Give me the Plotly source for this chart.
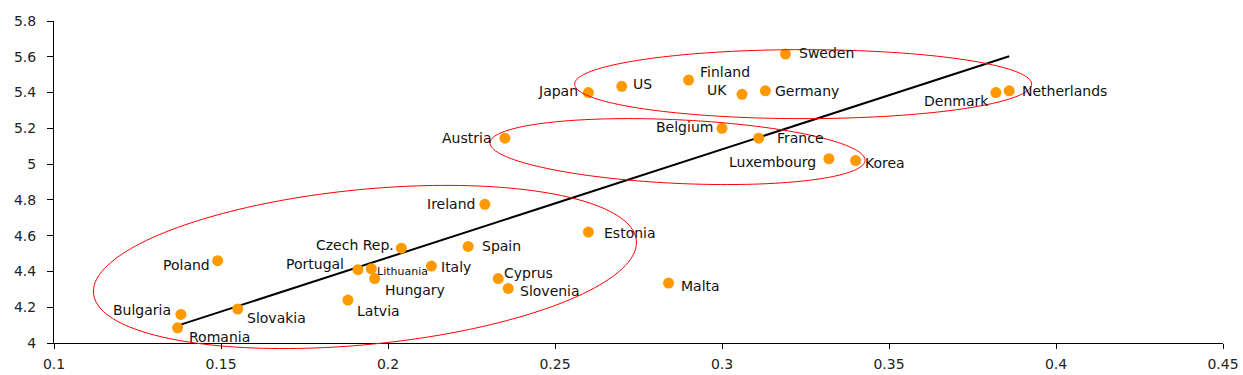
import numpy as np
import plotly.graph_objects as go

# ---- data ----
countries = ["Romania", "Bulgaria", "Poland", "Slovakia", "Latvia", "Portugal",
             "Lithuania", "Hungary", "Czech Rep.", "Italy", "Ireland", "Spain",
             "Cyprus", "Slovenia", "Estonia", "Malta", "Austria", "Japan", "US",
             "Finland", "UK", "Germany", "Sweden", "Belgium", "France",
             "Luxembourg", "Korea", "Denmark", "Netherlands"]
x_values = [0.137, 0.138, 0.149, 0.155, 0.188, 0.191,
            0.195, 0.196, 0.204, 0.213, 0.229, 0.224,
            0.233, 0.236, 0.260, 0.284, 0.235, 0.260, 0.270,
            0.290, 0.306, 0.313, 0.319, 0.300, 0.311,
            0.332, 0.340, 0.382, 0.386]
y_values = [4.085, 4.16, 4.46, 4.19, 4.24, 4.41,
            4.415, 4.36, 4.53, 4.43, 4.775, 4.54,
            4.36, 4.305, 4.62, 4.335, 5.145, 5.40, 5.435,
            5.47, 5.39, 5.41, 5.615, 5.20, 5.145,
            5.03, 5.02, 5.40, 5.41]
trend_x = [0.137, 0.386]
trend_y = [4.097, 5.603]
x_ticks = [0.1, 0.15, 0.2, 0.25, 0.3, 0.35, 0.4, 0.45]
y_ticks = [4, 4.2, 4.4, 4.6, 4.8, 5, 5.2, 5.4, 5.6, 5.8]

# ---- label placement (anchor, x shift px, y shift px, font size) ----
label_style = {
    "Romania": ("left", 9, -9, 14), "Bulgaria": ("right", -8, 4, 14),
    "Poland": ("right", -6, -4, 14), "Slovakia": ("left", 7, -9, 14),
    "Latvia": ("left", 7, -11, 14), "Portugal": ("right", -12, 6, 14),
    "Lithuania": ("left", 4, -3, 11), "Hungary": ("left", 8, -11, 14),
    "Czech Rep.": ("right", -5, 3, 14), "Italy": ("left", 8, -1, 14),
    "Ireland": ("right", -8, 0, 14), "Spain": ("left", 12, 0, 14),
    "Cyprus": ("left", 4, 6, 14), "Slovenia": ("left", 10, -3, 14),
    "Estonia": ("left", 14, -1, 14), "Malta": ("left", 10, -3, 14),
    "Austria": ("right", -12, 0, 14), "Japan": ("right", -8, 2, 14),
    "US": ("left", 9, 2, 14), "Finland": ("left", 9, 8, 14),
    "UK": ("right", -13, 4, 14), "Germany": ("left", 8, 0, 14),
    "Sweden": ("left", 12, 1, 14), "Belgium": ("right", -7, 1, 14),
    "France": ("left", 16, 0, 14), "Luxembourg": ("right", -11, -3, 14),
    "Korea": ("left", 7, -2, 14), "Denmark": ("right", -5, -8, 14),
    "Netherlands": ("left", 11, 0, 14),
}

# ---- figure geometry ----
W, H = 1243, 375
ML, MR, MT, MB = 54, 20, 21, 32
PW, PH = W - ML - MR, H - MT - MB
XR, YR = [0.1, 0.45], [4.0, 5.8]

fig = go.Figure()
fig.add_trace(go.Scatter(x=trend_x, y=trend_y, mode="lines",
                         line=dict(color="black", width=2), hoverinfo="skip",
                         cliponaxis=False))
fig.add_trace(go.Scatter(x=x_values, y=y_values, mode="markers",
                         marker=dict(color="#FF9900", size=11), text=countries,
                         cliponaxis=False))

for name, xv, yv in zip(countries, x_values, y_values):
    anc, xs, ys, fs = label_style[name]
    fig.add_annotation(x=xv, y=yv, text=name, showarrow=False, xanchor=anc,
                       yanchor="middle", xshift=xs, yshift=ys,
                       font=dict(family="DejaVu Sans", size=fs, color="#111"))

# ---- red ellipses (center in data units, semi-axes in px, tilt in degrees) ----
ellipses = [((0.1931, 4.425), 272.7, 77.5, 5.6),
            ((0.3243, 5.447), 228.5, 34.5, 0.0),
            ((0.2867, 5.070), 187.7, 31.8, -2.7)]
t = np.linspace(0, 2 * np.pi, 181)
for (cx, cy), a, b, ang in ellipses:
    th = np.radians(ang)
    u0 = (cx - XR[0]) / (XR[1] - XR[0])
    v0 = (cy - YR[0]) / (YR[1] - YR[0])
    dx = a * np.cos(th) * np.cos(t) - b * np.sin(th) * np.sin(t)
    dy = a * np.sin(th) * np.cos(t) + b * np.cos(th) * np.sin(t)
    u = u0 + dx / PW
    v = v0 + dy / PH
    path = "M " + " L ".join(f"{uu:.5f},{vv:.5f}" for uu, vv in zip(u, v)) + " Z"
    fig.add_shape(type="path", path=path, xref="paper", yref="paper",
                  line=dict(color="#FF0000", width=1), layer="above")

tickfont = dict(family="DejaVu Sans", size=14, color="#222")
fig.update_layout(
    width=W, height=H, margin=dict(l=ML, r=MR, t=MT, b=MB, autoexpand=False),
    plot_bgcolor="white", paper_bgcolor="white", showlegend=False,
    xaxis=dict(range=XR, tickvals=x_ticks, showgrid=False, zeroline=False,
               showline=True, linecolor="black", linewidth=1, ticks="outside",
               ticklen=5, tickcolor="black", tickfont=tickfont,
               ticklabelstandoff=3, automargin=False),
    yaxis=dict(range=YR, tickvals=y_ticks, showgrid=False, zeroline=False,
               showline=True, linecolor="black", linewidth=1, ticks="outside",
               ticklen=6, tickcolor="black", tickfont=tickfont,
               ticklabelstandoff=8, automargin=False),
)
fig.write_html("out.html", config={"displayModeBar": False},
               post_script="document.body.style.margin='0';"
                           "document.body.style.padding='0';"
                           "document.body.style.overflow='hidden';")
